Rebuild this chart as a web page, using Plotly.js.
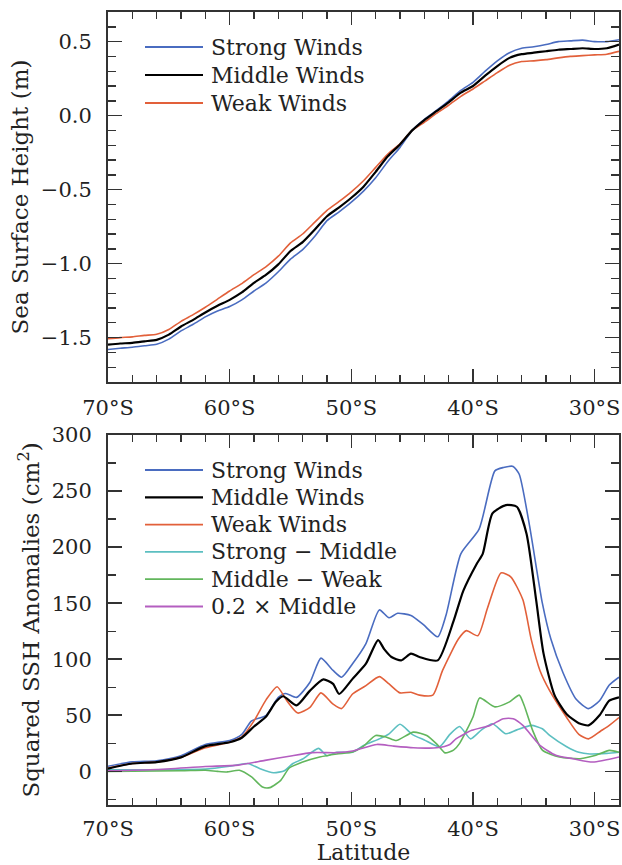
<!DOCTYPE html>
<html>
<head>
<meta charset="utf-8">
<script src="https://cdn.plot.ly/plotly-3.0.1.min.js"></script>
<style>html,body{margin:0;padding:0;background:#fff;}#chart{width:622px;height:865px;}</style>
</head>
<body>
<div id="chart"></div>
<script>
// ---------- Top panel: Sea Surface Height (m) ----------
const latTop = [-70,-69,-68,-67,-66,-65,-64,-63,-62,-61,-60,-59,-58,-57,-56,-55,-54,-53,-52,-51,-50,-49,-48,-47,-46,-45,-44,-43,-42,-41,-40,-39,-38,-37,-36,-35,-34,-33,-32,-31,-30,-29,-28];
const sshStrong = [-1.58,-1.572,-1.565,-1.555,-1.545,-1.51,-1.455,-1.41,-1.36,-1.32,-1.29,-1.245,-1.185,-1.13,-1.055,-0.97,-0.905,-0.815,-0.71,-0.65,-0.585,-0.51,-0.42,-0.31,-0.215,-0.10,-0.025,0.035,0.10,0.17,0.225,0.30,0.37,0.425,0.455,0.465,0.48,0.50,0.505,0.51,0.50,0.50,0.513];
const sshMiddle = [-1.547,-1.54,-1.535,-1.525,-1.515,-1.48,-1.425,-1.38,-1.33,-1.285,-1.245,-1.195,-1.13,-1.075,-1.005,-0.915,-0.855,-0.77,-0.68,-0.62,-0.555,-0.48,-0.38,-0.275,-0.195,-0.10,-0.03,0.03,0.09,0.155,0.20,0.27,0.335,0.39,0.415,0.425,0.435,0.445,0.45,0.455,0.45,0.455,0.48];
const sshWeak = [-1.507,-1.50,-1.495,-1.485,-1.478,-1.445,-1.39,-1.345,-1.295,-1.24,-1.185,-1.135,-1.075,-1.02,-0.95,-0.86,-0.80,-0.72,-0.64,-0.58,-0.515,-0.44,-0.35,-0.26,-0.19,-0.10,-0.045,0.015,0.07,0.13,0.18,0.235,0.29,0.34,0.365,0.37,0.378,0.39,0.40,0.405,0.41,0.415,0.434];

// ---------- Bottom panel: Squared SSH Anomalies (cm^2) ----------
const latStrong = [-70,-68,-66,-64,-62,-60,-59,-58.2,-57,-56,-55.4,-54.5,-53.4,-52.5,-51.5,-50.8,-49.9,-48.8,-47.7,-46.9,-46.2,-45.1,-44.1,-42.9,-42.2,-41,-39.5,-38.2,-37.5,-36.7,-36.2,-35.4,-34.3,-33.6,-32.6,-31.5,-30.5,-29.6,-28.8,-28];
const sqStrong = [4.5,8.5,9.5,14,24,27.5,33,45,50,66,69.5,66,79.5,101,90,84,96,114,144,137,141,139,131,120,140,194,216,268,271,272,265,222,150,118,88,64,56,63,77,84];
const latMiddle = [-70,-68,-66,-64,-62,-60,-59,-58,-57,-56.2,-55.6,-54.5,-53.4,-52.3,-51.5,-51,-49.9,-48.8,-47.8,-47.3,-46.7,-45.9,-45.1,-44.4,-42.9,-41.6,-40.8,-39.7,-39.2,-38.4,-37.3,-36.4,-35.6,-34.8,-34.2,-33.3,-32.3,-31.3,-30.5,-29.6,-28.8,-28];
const sqMiddle = [2.5,7,8.3,12.5,22.5,26,30,40,49,62,67,58.8,72,82,78,69,82.5,96,117,109,102,99,105,102,99,134,161,185,194,230,237.5,236,212,152,105,68,51,43,41,50,63,66];
const latWeak = [-70,-68,-66,-64,-62,-60,-59,-58,-57,-56.1,-55.3,-54.4,-53.4,-52.5,-51.5,-50.8,-49.9,-48.8,-47.7,-46.9,-46,-45.1,-44.4,-43.3,-42.5,-41.2,-40.55,-39.6,-38.8,-37.7,-36.9,-35.9,-35.2,-34.5,-33.7,-32.3,-31.3,-30.5,-29.5,-28.8,-28];
const sqWeak = [3,7,8.3,12.5,21,26,30.7,45,64,75.5,63,52,57,70,60,56,69,76.5,84.5,78,70,70.6,68,68,90,118,125.5,121,146,177,173.5,153,117,90,72,48,33,29,36,41,48];
const latStrongMinusMiddle = [-70,-66,-62,-60,-58.5,-57.5,-56.4,-55.5,-54.8,-54,-52.7,-52,-51.2,-49.9,-49,-47.7,-46.9,-46,-45,-44,-42.75,-41.9,-41.1,-40.2,-39.3,-38.4,-37.3,-36.4,-35.2,-34.3,-33.7,-32.3,-31.3,-30.4,-29,-28];
const sqStrongMinusMiddle = [1.5,1.5,2,4.5,7,2.4,-1.2,0.5,7,11,20.5,14,17,17,23,29,33.5,42,33,28,22,33,40,29,37,42.5,33.5,37,41,38,32,22,17,15.5,16,17];
const latMiddleMinusWeak = [-70,-64,-62,-61,-60.2,-59.2,-58.2,-57.3,-56.7,-55.8,-55.1,-54,-52.6,-51.2,-49.9,-49.05,-48,-47.1,-46.3,-44.9,-43.8,-42.9,-42.3,-41.6,-41.1,-40,-39.45,-38.2,-37,-36.2,-35.8,-35.1,-34.3,-32.9,-31.2,-29.9,-28.8,-28];
const sqMiddleMinusWeak = [0,0.5,1,0,-0.5,1,-5,-14,-14.5,-8,3,8.3,12.8,15.5,17.3,22,32,30.5,27.5,35,32,23.5,16.5,19,25,48.5,65.5,57.5,62,68,59,36.6,19,12.8,11.3,14.3,18.7,17];
const latPointTwoMiddle = [-70,-66,-62,-59.3,-57.1,-55.1,-53.2,-51.2,-49.9,-47.9,-46.6,-44.9,-43,-41.9,-41.4,-40.1,-38.6,-37.5,-36.7,-35.9,-34.5,-33.2,-31.8,-30.15,-28];
const sqPointTwoMiddle = [0.5,1.7,4.3,5.6,9.8,13.5,16.7,16.7,18.2,24,22.6,21.1,21,24,29,36.6,41,47,47,41,23.3,14.3,11.3,8.3,12.8];

// ---------- Axis tick labels & legend labels ----------
const latTickVals = [-70,-60,-50,-40,-30];
const latTickText = ["70°S","60°S","50°S","40°S","30°S"];
const topNames = ["Strong Winds","Middle Winds","Weak Winds"];
const bottomNames = ["Strong Winds","Middle Winds","Weak Winds","Strong − Middle","Middle − Weak","0.2 × Middle"];

// ---------- Styling ----------
const FONT = "DejaVu Serif, serif";
const TXT = "#222";
const C = {strong:"#4a6cc0", middle:"#000000", weak:"#e2603a", sm:"#5cbfc1", mw:"#62b65c", p2:"#b45ec0"};
const W = 622, H = 865;
const M = {l:108, r:3, t:12, b:60};
const plotH = H - M.t - M.b, plotW = W - M.l - M.r;
const px2x = p => (p - M.l) / plotW;
const py2y = p => (H - M.b - p) / plotH;

function tr(x, y, name, color, width, xa, ya) {
  return {x:x, y:y, name:name, type:"scatter", mode:"lines", xaxis:xa, yaxis:ya,
          line:{color:color, width:width, shape:"spline", smoothing:0.6}, showlegend:false, hoverinfo:"skip"};
}

const traces = [
  tr(latTop, sshStrong, topNames[0], C.strong, 1.6, "x", "y"),
  tr(latTop, sshWeak, topNames[2], C.weak, 1.6, "x", "y"),
  tr(latTop, sshMiddle, topNames[1], C.middle, 2.2, "x", "y"),
  tr(latStrongMinusMiddle, sqStrongMinusMiddle, bottomNames[3], C.sm, 1.6, "x2", "y2"),
  tr(latMiddleMinusWeak, sqMiddleMinusWeak, bottomNames[4], C.mw, 1.6, "x2", "y2"),
  tr(latPointTwoMiddle, sqPointTwoMiddle, bottomNames[5], C.p2, 1.6, "x2", "y2"),
  tr(latStrong, sqStrong, bottomNames[0], C.strong, 1.6, "x2", "y2"),
  tr(latWeak, sqWeak, bottomNames[2], C.weak, 1.6, "x2", "y2"),
  tr(latMiddle, sqMiddle, bottomNames[1], C.middle, 2.2, "x2", "y2")
];

const tickFont = {family:FONT, size:21, color:TXT};
const titleFont = {family:FONT, size:23, color:TXT};
function xax(anchor, showTitle) {
  const a = {domain:[0,1], anchor:anchor, range:[-70,-28], tickmode:"array", tickvals:latTickVals, ticktext:latTickText,
    ticks:"inside", ticklen:13, tickwidth:1.6, tickcolor:"#333", showline:true, linecolor:"#333", linewidth:2,
    mirror:"allticks", showgrid:false, zeroline:false, tickfont:tickFont, ticklabelstandoff:showTitle ? 4 : 6,
    minor:{dtick:2, tick0:-70, ticks:"inside", ticklen:7, tickwidth:1.4, tickcolor:"#333", showgrid:false}};
  if (showTitle) a.title = {text:"Latitude", font:{family:FONT, size:22, color:TXT}, standoff:10};
  return a;
}
function yax(anchor, domain, range, dtick, minorDtick, fmt, title) {
  return {domain:domain, anchor:anchor, range:range, tickmode:"linear", tick0:0, dtick:dtick, tickformat:fmt,
    ticks:"inside", ticklen:14, tickwidth:1.6, tickcolor:"#333", showline:true, linecolor:"#333", linewidth:2,
    mirror:"allticks", showgrid:false, zeroline:false, tickfont:tickFont, ticklabelstandoff:10,
    minor:{dtick:minorDtick, ticks:"inside", ticklen:8, tickwidth:1.4, tickcolor:"#333", showgrid:false},
    title:{text:title, font:titleFont, standoff:6}};
}

const topDomain = [py2y(382), 1];
const botDomain = [0, py2y(435)];

// manual legends (longer sample lines as in the reference)
const shapes = [], annotations = [];
function legendItem(ypx, color, width, label) {
  shapes.push({type:"line", xref:"paper", yref:"paper", x0:px2x(145), x1:px2x(203), y0:py2y(ypx), y1:py2y(ypx),
               line:{color:color, width:width}});
  annotations.push({xref:"paper", yref:"paper", x:px2x(209), y:py2y(ypx), xanchor:"left", yanchor:"middle",
                    text:label, showarrow:false, font:{family:FONT, size:22, color:TXT}});
}
const topColors = [C.strong, C.middle, C.weak], topW = [1.8, 2.2, 1.8];
topNames.forEach((n,i) => legendItem(47 + 28*i, topColors[i], topW[i], n));
const botColors = [C.strong, C.middle, C.weak, C.sm, C.mw, C.p2], botW = [1.8,2.2,1.8,1.8,1.8,1.8];
bottomNames.forEach((n,i) => legendItem(470 + 27.3*i, botColors[i], botW[i], n));

const layout = {
  width:W, height:H, margin:M, paper_bgcolor:"#fff", plot_bgcolor:"#fff", showlegend:false,
  font:{family:FONT, color:TXT},
  xaxis: xax("y", false),
  yaxis: yax("x", topDomain, [-1.8, 0.7], 0.5, 0.1, ".1f", "Sea Surface Height (m)"),
  xaxis2: xax("y2", true),
  yaxis2: yax("x2", botDomain, [-30, 300], 50, 25, "d", "Squared SSH Anomalies (cm<sup>2</sup>)"),
  shapes:shapes, annotations:annotations
};

Plotly.newPlot("chart", traces, layout, {staticPlot:true, displayModeBar:false});
</script>
</body>
</html>
